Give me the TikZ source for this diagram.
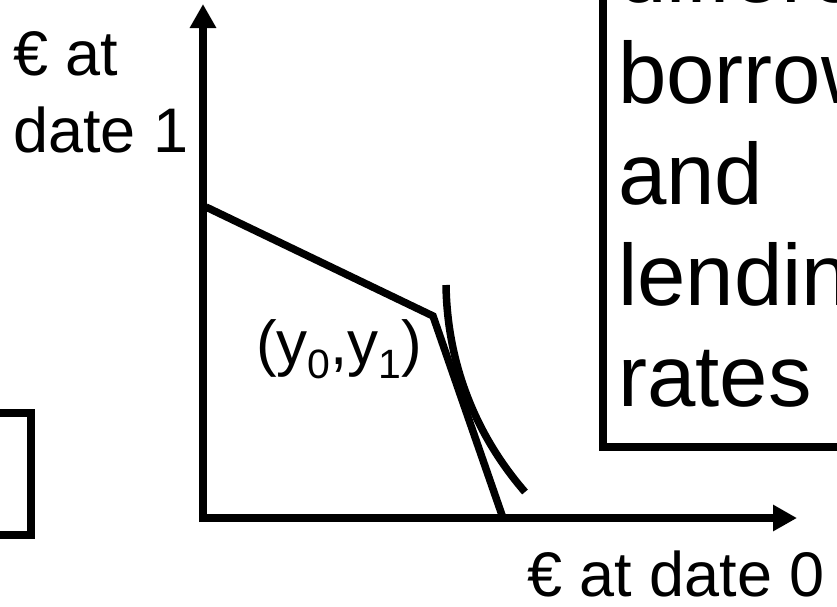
\documentclass[tikz,border=0pt]{standalone}
\usepackage{fontspec}
\setmainfont{Liberation Sans}
\usetikzlibrary{arrows.meta}
\newcommand\mysub[1]{\raisebox{-14pt}{\fontsize{41}{41}\selectfont #1}}
\begin{document}
\begin{tikzpicture}[x=1pt,y=-1pt,
  axis/.style={line width=8pt, -{Triangle[width=25pt,length=24pt]}},
  curveline/.style={line width=7.5pt},
  boxline/.style={line width=8pt},
  lbl/.style={inner sep=0pt, anchor=base west, font=\fontsize{63}{75}\selectfont},
  endowlbl/.style={inner sep=0pt, anchor=base west, font=\fontsize{62}{72}\selectfont},
  boxtxt/.style={inner sep=0pt, anchor=base west, font=\fontsize{87}{100}\selectfont}]
\useasboundingbox (0,0) rectangle (837,606);
% axes
\coordinate (ybot) at (203,522);
\coordinate (ytip) at (203,4);
\coordinate (xleft) at (199,518);
\coordinate (xtip) at (797,518);
\draw[axis] (ybot) -- (ytip);
\draw[axis] (xleft) -- (xtip);
% axis labels
\node[lbl] (ylab1) at (13,75) {€ at};
\node[lbl] (ylab2) at (13,152) {date 1};
\node[lbl] (xlab) at (527,596) {€ at date 0};
% budget line with kink
\coordinate (A) at (206,207);
\coordinate (K) at (433,316);
\coordinate (B) at (503,518);
\draw[curveline, line join=miter] (A) -- (K) -- (B);
% indifference curve
\coordinate (C0) at (446,285);
\coordinate (C1) at (525,492);
\draw[curveline] (C0) .. controls (447,350) and (467,425) .. (C1);
% endowment label
\node[endowlbl] (endow) at (256,364) {(y\mysub{0},y\mysub{1})};
% right box
\coordinate (RB1) at (603,-60);
\coordinate (RB2) at (950,447);
\draw[boxline] (RB1) rectangle (RB2);
\node[boxtxt] (t0) at (618,2) {different};
\node[boxtxt] (t1) at (618,103) {borrowing};
\node[boxtxt] (t2) at (618,204) {and};
\node[boxtxt] (t3) at (618,305) {lending};
\node[boxtxt] (t4) at (618,406) {rates};
% left partial box
\coordinate (LB1) at (-100,413);
\coordinate (LB2) at (31,535);
\draw[boxline] (LB1) rectangle (LB2);
\end{tikzpicture}
\end{document}
